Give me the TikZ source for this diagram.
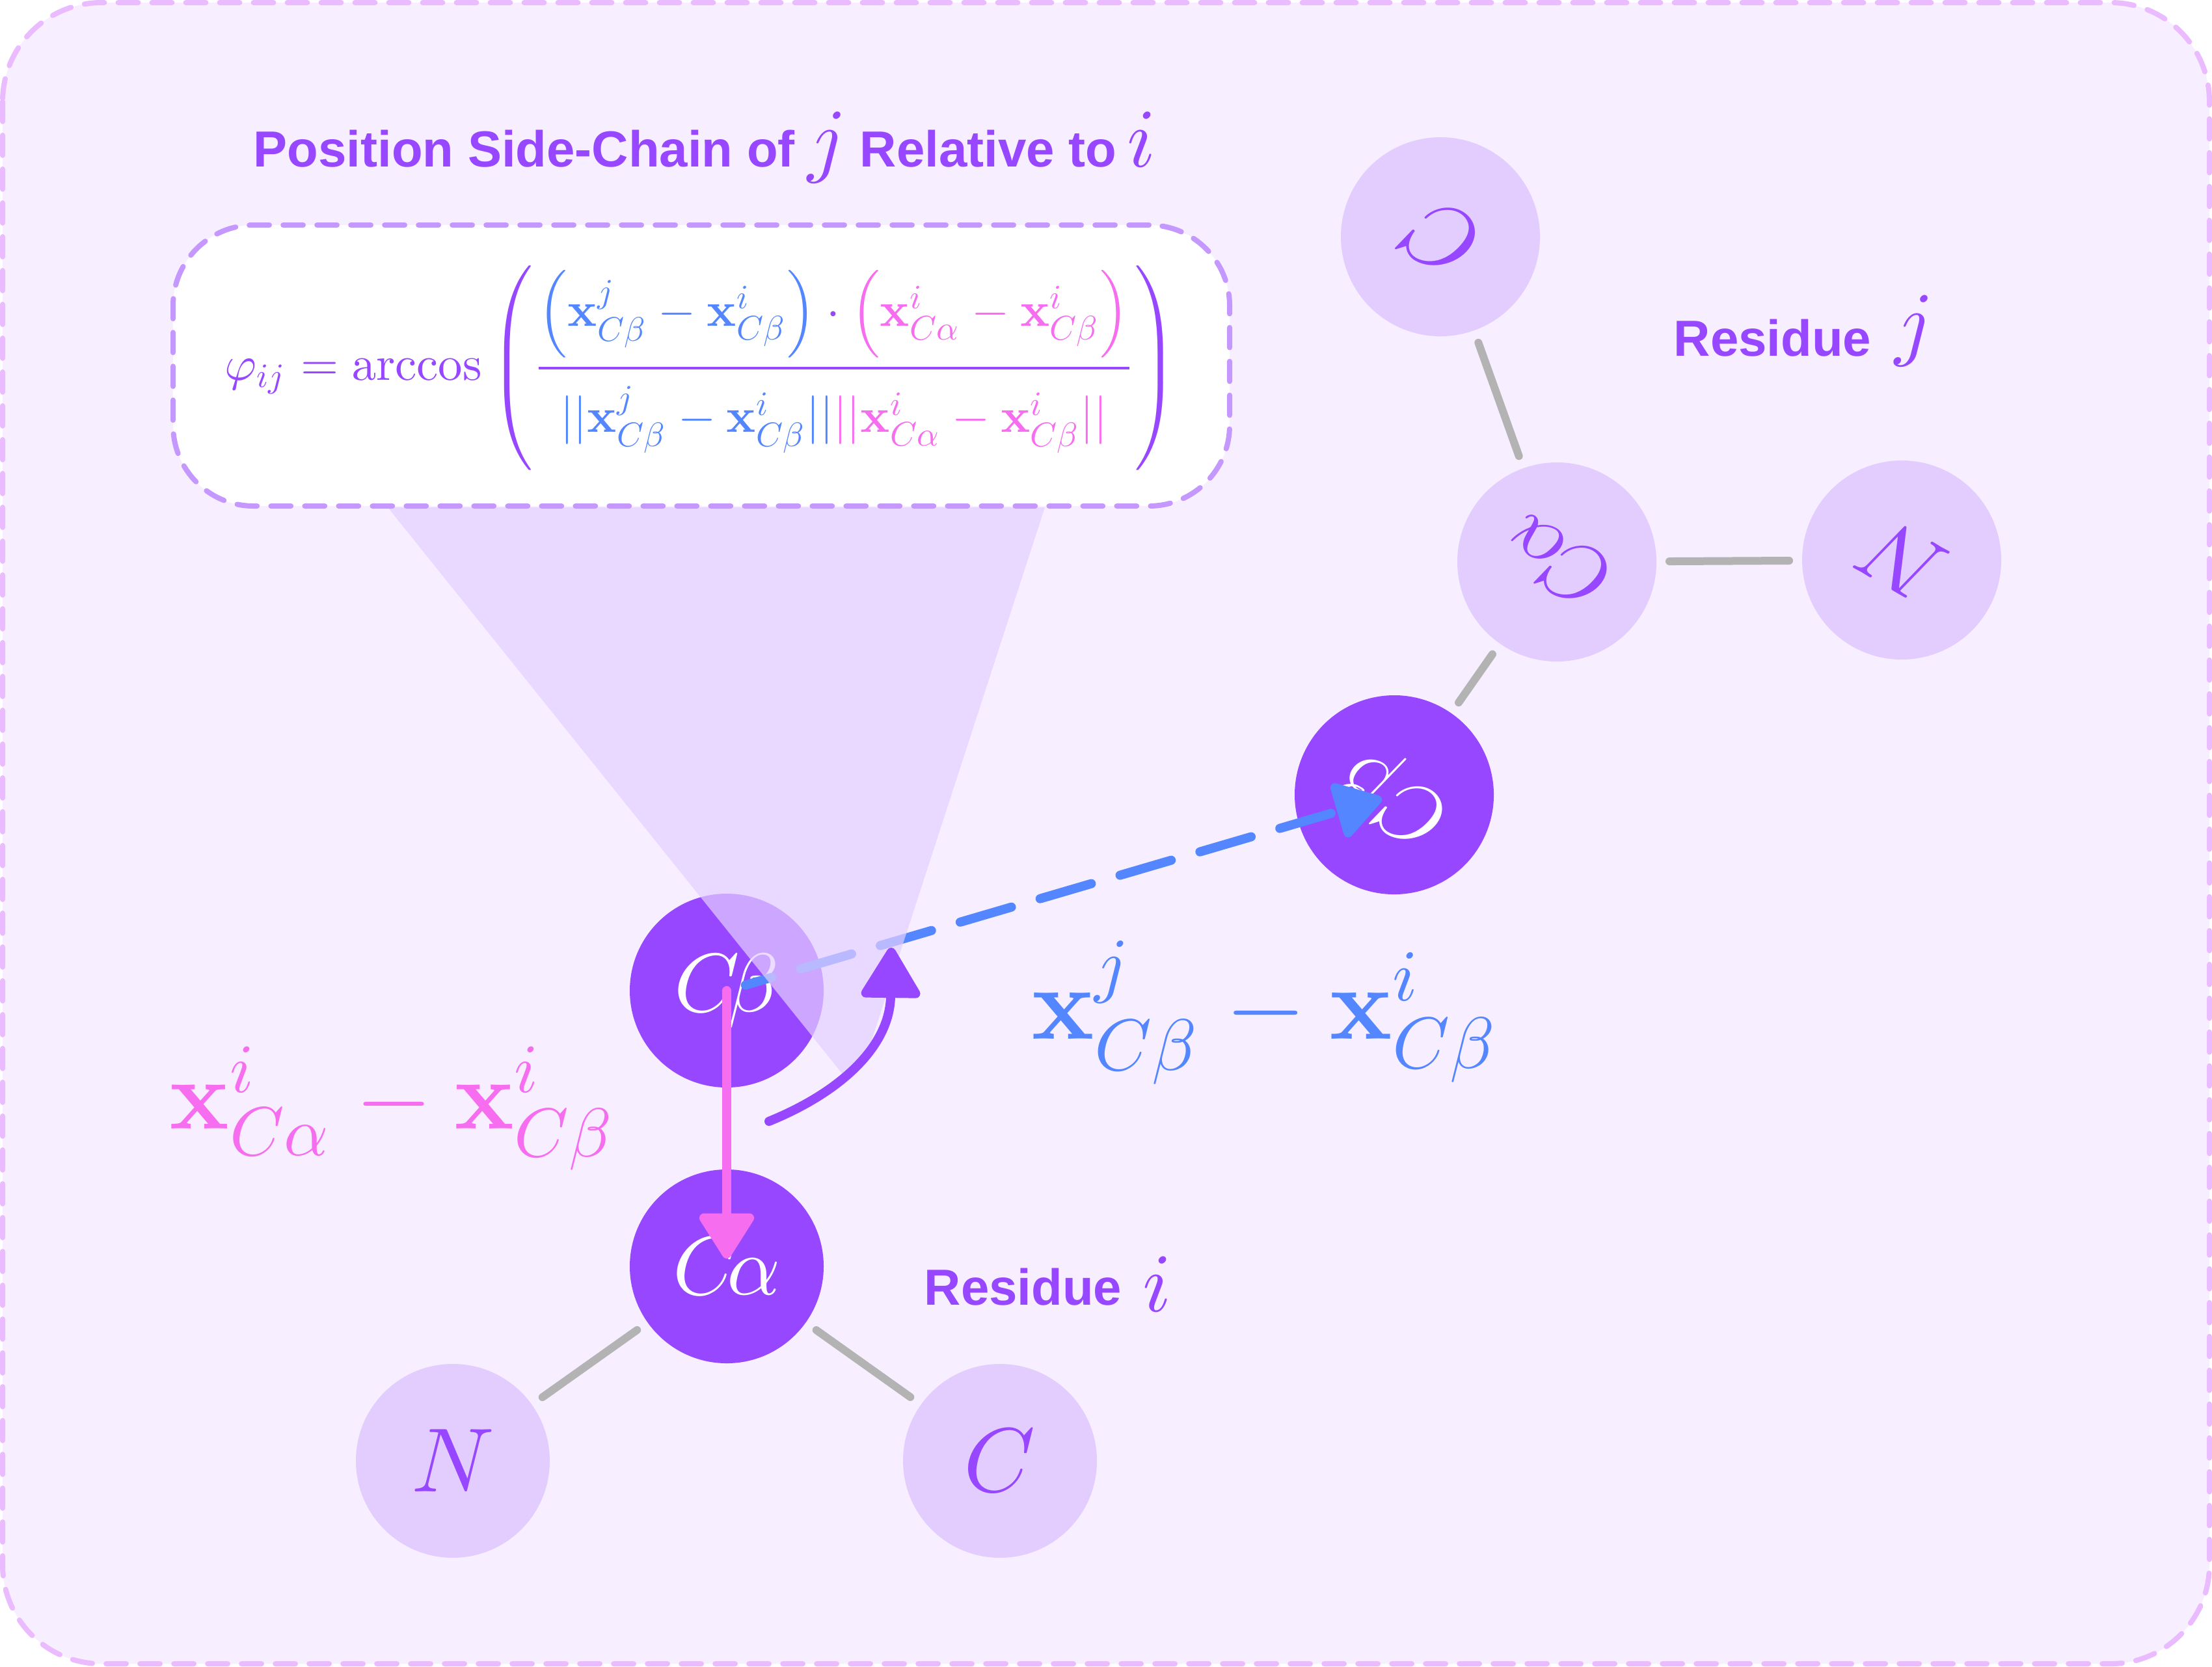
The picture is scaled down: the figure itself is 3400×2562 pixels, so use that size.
\documentclass[tikz,border=0pt]{standalone}
\usepackage{graphicx}
\usepackage[no-math]{fontspec}
\newfontfamily\labelfont{Liberation Sans}
\usetikzlibrary{arrows.meta}
% same math italic design at every size
\DeclareFontShape{OML}{cmm}{m}{it}{<->cmmi10}{}

\definecolor{panelfill}{HTML}{F7EEFF}
\definecolor{paneldash}{HTML}{EBBBFF}
\definecolor{calloutdash}{HTML}{C498FF}
\definecolor{resid}{HTML}{9747FF}
\definecolor{residlight}{HTML}{E3CDFF}
\definecolor{beamfill}{HTML}{E4CFFF}
\definecolor{bondgray}{HTML}{B3B3B3}
\definecolor{vecblue}{HTML}{5487FF}
\definecolor{vecpink}{HTML}{F76DF0}

\newcommand{\xb}{\mathbf{x}}
\newcommand{\bigmath}[1]{\scalebox{3.2}{$#1$}}
\newcommand{\onemath}[1]{\scalebox{3.5}{$#1$}}
\newcommand{\capmath}[1]{{\normalsize\scalebox{3.2}{$#1$}}}
\newcommand{\vecij}{\xb^{j}_{C\beta}-\xb^{i}_{C\beta}}
\newcommand{\vecii}{\xb^{i}_{C\alpha}-\xb^{i}_{C\beta}}

\tikzset{
  atomi/.style={circle,inner sep=0pt,outer sep=0pt,minimum size=74.5pt},
  atomj/.style={atomi,minimum size=76.5pt,rotate=150},
  dark/.style={fill=resid,text=white},
  light/.style={fill=residlight,text=resid},
  bond/.style={draw=bondgray,line width=3pt,line cap=round,shorten <=5pt,shorten >=5pt},
  caption/.style={inner sep=0pt,anchor=base west,text=resid,font=\labelfont\bfseries\fontsize{19.5}{24}\selectfont},
  veclabel/.style={inner sep=0pt,anchor=base west},
}

\begin{document}
\begin{tikzpicture}[x=0.25pt,y=-0.25pt]
\useasboundingbox (0,0) rectangle (3400,2562);

\draw[fill=panelfill,draw=paneldash,line width=2pt,line cap=round,
  dash pattern=on 7.7pt off 5.3pt,rounded corners=38pt] (4,4) rectangle (3396,2558);

% residue i
\node[atomi,dark] (cbi) at (1117,1523) {\bigmath{C\mkern-2.5mu\beta}};
\node[atomi,dark] (cai) at (1117,1947) {\bigmath{C\mkern-2.5mu\alpha}};
\node[atomi,light] (ni) at (696,2246) {\onemath{N}};
\node[atomi,light] (ci) at (1537,2246) {\onemath{C}};
\draw[bond] (cai) -- (ni);
\draw[bond] (cai) -- (ci);

% residue j
\node[atomj,dark] (cbj) at (2143,1222) {\bigmath{C\mkern-1mu\beta}};
\node[atomj,light] (caj) at (2393,864) {\bigmath{C\mkern-2.5mu\alpha}};
\node[atomj,light] (nj) at (2923,861) {\onemath{N}};
\node[atomj,light] (cj) at (2214,364) {\onemath{C}};
\draw[bond] (caj) -- (cbj);
\draw[bond] (caj) -- (nj);
\draw[bond] (caj) -- (cj);

\draw[vecblue,line width=3.5pt,line cap=round,dash pattern=on 20.5pt off 11.5pt,dash phase=10pt,
  shorten <=7.5pt,shorten >=5pt,-{Triangle[length=19.5pt,width=23.5pt,round]}] (cbi.center) -- (cbj.center);

% beam from the formula down to the angle
\coordinate (b1) at (596,780);
\coordinate (b2) at (1606,780);
\coordinate (b3) at (1333,1620);
\coordinate (b4) at (1298,1655);
\fill[beamfill,opacity=0.7] (b1) -- (b2) -- (b3) -- (b4) -- cycle;

\node[draw=calloutdash,fill=white,line width=2pt,line cap=round,dash pattern=on 7.7pt off 5.3pt,
  rounded corners=31pt,inner sep=0pt,minimum width=406pt,minimum height=108pt] (callout) at (1078,562) {};
\node[inner sep=0pt,text=resid] (formula) at (1078,566)
  {\scalebox{1.87}{$\displaystyle\varphi_{ij}=\arccos\left(\rule[-18.25pt]{0pt}{41.5pt}{{{\color{vecblue}\left(\vecij\right)}\cdot{\color{vecpink}\left(\vecii\right)}}\above 0.6pt
  {\rule{0pt}{11pt}{\color{vecblue}||\vecij||}{\color{vecpink}||\vecii||}}}\right)$}};

\node[caption] (title) at (389,256) {Position Side-Chain of\hspace{5pt}\capmath{j}\hspace{5pt}Relative to\hspace{4pt}\capmath{i}};
\node[caption] (resj) at (2572,547) {Residue\hspace{9pt}\raisebox{2.2pt}{\capmath{j}}};
\node[caption] (resi) at (1420,2006) {Residue\hspace{8pt}\raisebox{-2.7pt}{\capmath{i}}};

\node[veclabel,text=vecblue] (labj) at (1585,1597) {\scalebox{4}{$\vecij$}};
\node[veclabel,text=vecpink] (labi) at (260,1735) {\scalebox{3.8}{$\vecii$}};

% the two arrows on top
\coordinate (a1) at (1182,1724);
\coordinate (a2) at (1370,1457);
\draw[resid,line width=3.5pt,line cap=round,-{Triangle[length=21pt,width=24.5pt,round]}]
  (a1) .. controls (1290,1680) and (1368,1610) .. (a2);
\draw[vecpink,line width=3.5pt,line cap=round,shorten >=3pt,-{Triangle[length=19pt,width=23pt,round]}]
  (cbi.center) -- (cai.center);
\end{tikzpicture}
\end{document}
